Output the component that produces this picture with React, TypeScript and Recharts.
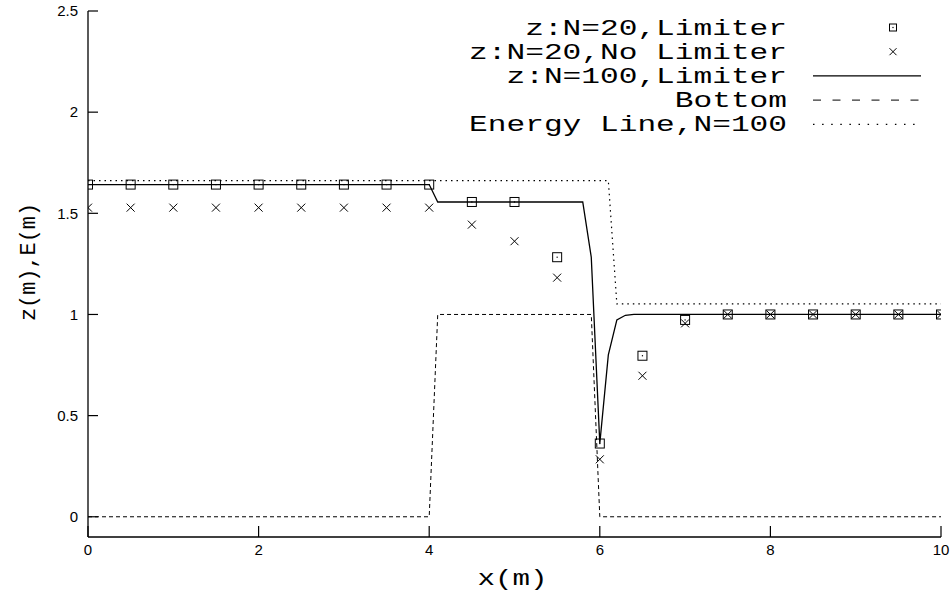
import { ComposedChart, Line, Scatter, XAxis, YAxis, Legend } from 'recharts';

// coarse grid, N=20
const X_N20 = [0, 0.5, 1, 1.5, 2, 2.5, 3, 3.5, 4, 4.5, 5, 5.5, 6, 6.5, 7, 7.5, 8, 8.5, 9, 9.5, 10];
const Z_LIMITER = [1.642, 1.642, 1.642, 1.642, 1.642, 1.642, 1.642, 1.642, 1.642, 1.556, 1.556, 1.283, 0.362, 0.796, 0.973, 1.0, 1.0, 1.0, 1.0, 1.0, 1.0];
const Z_NO_LIMITER = [1.528, 1.528, 1.528, 1.528, 1.528, 1.528, 1.528, 1.528, 1.528, 1.444, 1.362, 1.182, 0.284, 0.697, 0.956, 1.0, 1.0, 1.0, 1.0, 1.0, 1.0];

// fine grid, N=100 (breakpoints of the polyline)
const X_N100 = [0, 4, 4.1, 5.8, 5.9, 6, 6.1, 6.2, 6.3, 6.4, 10];
const Z_N100 = [1.642, 1.642, 1.556, 1.556, 1.283, 0.362, 0.8, 0.973, 0.996, 1.0, 1.0];

const X_BOTTOM = [0, 4, 4.1, 5.9, 6, 10];
const Z_BOTTOM = [0, 0, 1, 1, 0, 0];

const X_ENERGY = [0, 6.1, 6.2, 10];
const E_ENERGY = [1.662, 1.662, 1.052, 1.052];

const X_TICKS = [0, 2, 4, 6, 8, 10];
const Y_TICKS = [0, 0.5, 1, 1.5, 2, 2.5];

const LEGEND_LABELS = ['z:N=20,Limiter', 'z:N=20,No Limiter', 'z:N=100,Limiter', 'Bottom', 'Energy Line,N=100'];

const MONO = "'Liberation Mono', 'Courier New', monospace";
const SANS = "'Liberation Sans', Arial, sans-serif";

const pairs = (xs: number[], ys: number[]) => xs.map((x, i) => ({ x, y: ys[i] }));

const limiterPts = pairs(X_N20, Z_LIMITER);
const noLimiterPts = pairs(X_N20, Z_NO_LIMITER);
const n100Pts = pairs(X_N100, Z_N100);
const bottomPts = pairs(X_BOTTOM, Z_BOTTOM);
const energyPts = pairs(X_ENERGY, E_ENERGY);

function BoxMark({ cx, cy, side }: any) {
  const s = side ?? 9;
  const h = s / 2;
  return (
    <g>
      <rect x={cx - h} y={cy - h} width={s} height={s} fill="none" stroke="#000" strokeWidth={1} />
      <rect x={cx - 0.6} y={cy - 0.6} width={1.2} height={1.2} fill="#000" />
    </g>
  );
}

function CrossMark({ cx, cy, side }: any) {
  const h = (side ?? 8) / 2;
  return (
    <path
      d={`M${cx - h},${cy - h}L${cx + h},${cy + h}M${cx - h},${cy + h}L${cx + h},${cy - h}`}
      stroke="#000"
      strokeWidth={1}
      fill="none"
    />
  );
}

const noTick = () => <g />;

function Key() {
  const textRight = 787;
  const x0 = 813;
  const x1 = 921;
  const xm = 893;
  return (
    <svg width={952} height={140} style={{ display: 'block' }}>
      {LEGEND_LABELS.map((label, i) => {
        const y = 27.5 + i * 24.2;
        let sample;
        if (i === 0) sample = <BoxMark cx={xm} cy={y} side={7} />;
        else if (i === 1) sample = <CrossMark cx={xm} cy={y} side={7} />;
        else if (i === 2) sample = <line x1={x0} x2={x1} y1={y} y2={y} stroke="#000" strokeWidth={1.2} />;
        else if (i === 3) sample = <line x1={x0} x2={x1} y1={y} y2={y} stroke="#000" strokeWidth={1} strokeDasharray="8 11.5" />;
        else sample = <line x1={x0} x2={x1} y1={y} y2={y} stroke="#000" strokeWidth={1.2} strokeDasharray="1.5 7.6" />;
        return (
          <g key={label}>
            <text
              x={textRight}
              y={y + 7}
              textAnchor="end"
              textLength={label.length * 18.7}
              lengthAdjust="spacingAndGlyphs"
              fontFamily={MONO}
              fontSize={22}
              fill="#000"
            >
              {label}
            </text>
            {sample}
          </g>
        );
      })}
    </svg>
  );
}

function XTitle({ viewBox }: any) {
  const cx = viewBox.x + viewBox.width / 2 - 2;
  return (
    <text x={cx} y={585} textAnchor="middle" textLength={70} lengthAdjust="spacingAndGlyphs" fontFamily={MONO} fontSize={22} fill="#000">
      x(m)
    </text>
  );
}

function YTitle({ viewBox }: any) {
  const cy = viewBox.y + viewBox.height / 2 - 12;
  return (
    <text
      transform={`translate(35, ${cy}) rotate(-90)`}
      x={0}
      y={0}
      textAnchor="middle"
      textLength={118}
      lengthAdjust="spacingAndGlyphs"
      fontFamily={MONO}
      fontSize={22}
      fill="#000"
    >
      z(m),E(m)
    </text>
  );
}

export default function App() {
  const tickStyle = { fontFamily: SANS, fontSize: 15, fill: '#000' };
  return (
    <div style={{ position: 'absolute', left: 0, top: 0, width: 952, height: 591, background: '#fff' }}>
      <ComposedChart width={952} height={591} margin={{ top: 11, right: 11, bottom: 24, left: 28 }}>
        <XAxis
          xAxisId="b"
          type="number"
          dataKey="x"
          domain={[0, 10]}
          ticks={X_TICKS}
          allowDataOverflow
          height={30}
          tickSize={-11}
          tickMargin={18}
          tick={tickStyle}
          axisLine={{ stroke: '#000', strokeWidth: 1.3 }}
          tickLine={{ stroke: '#000', strokeWidth: 1.2 }}
          label={{ content: XTitle }}
        />
        <XAxis
          xAxisId="t"
          orientation="top"
          type="number"
          dataKey="x"
          domain={[0, 10]}
          ticks={X_TICKS}
          allowDataOverflow
          height={0}
          tickSize={-11}
          tick={noTick}
          axisLine={{ stroke: '#000', strokeWidth: 1.3 }}
          tickLine={{ stroke: '#000', strokeWidth: 1.2 }}
        />
        <YAxis
          yAxisId="l"
          type="number"
          domain={[-0.1, 2.5]}
          ticks={Y_TICKS}
          allowDataOverflow
          width={60}
          tickSize={-10}
          tickMargin={20}
          tick={tickStyle}
          axisLine={{ stroke: '#000', strokeWidth: 1.3 }}
          tickLine={{ stroke: '#000', strokeWidth: 1.2 }}
          label={{ content: YTitle }}
        />
        <YAxis
          yAxisId="r"
          orientation="right"
          type="number"
          domain={[-0.1, 2.5]}
          ticks={Y_TICKS}
          allowDataOverflow
          width={0}
          tickSize={-10}
          tick={noTick}
          axisLine={{ stroke: '#000', strokeWidth: 1.3 }}
          tickLine={{ stroke: '#000', strokeWidth: 1.2 }}
        />
        <Line
          xAxisId="b"
          yAxisId="l"
          data={bottomPts}
          dataKey="y"
          type="linear"
          stroke="#000"
          strokeWidth={1}
          strokeDasharray="4 3"
          dot={false}
          isAnimationActive={false}
        />
        <Line
          xAxisId="b"
          yAxisId="l"
          data={energyPts}
          dataKey="y"
          type="linear"
          stroke="#000"
          strokeWidth={1.2}
          strokeDasharray="1.5 4"
          dot={false}
          isAnimationActive={false}
        />
        <Line
          xAxisId="b"
          yAxisId="l"
          data={n100Pts}
          dataKey="y"
          type="linear"
          stroke="#000"
          strokeWidth={1.3}
          dot={false}
          isAnimationActive={false}
        />
        <Scatter xAxisId="b" yAxisId="l" data={limiterPts} dataKey="y" shape={<BoxMark />} isAnimationActive={false} />
        <Scatter xAxisId="b" yAxisId="l" data={noLimiterPts} dataKey="y" shape={<CrossMark />} isAnimationActive={false} />
        <Legend
          layout="vertical"
          align="center"
          verticalAlign="middle"
          wrapperStyle={{ left: 0, top: 0, width: 952, height: 140, pointerEvents: 'none' }}
          content={() => <Key />}
        />
      </ComposedChart>
    </div>
  );
}
